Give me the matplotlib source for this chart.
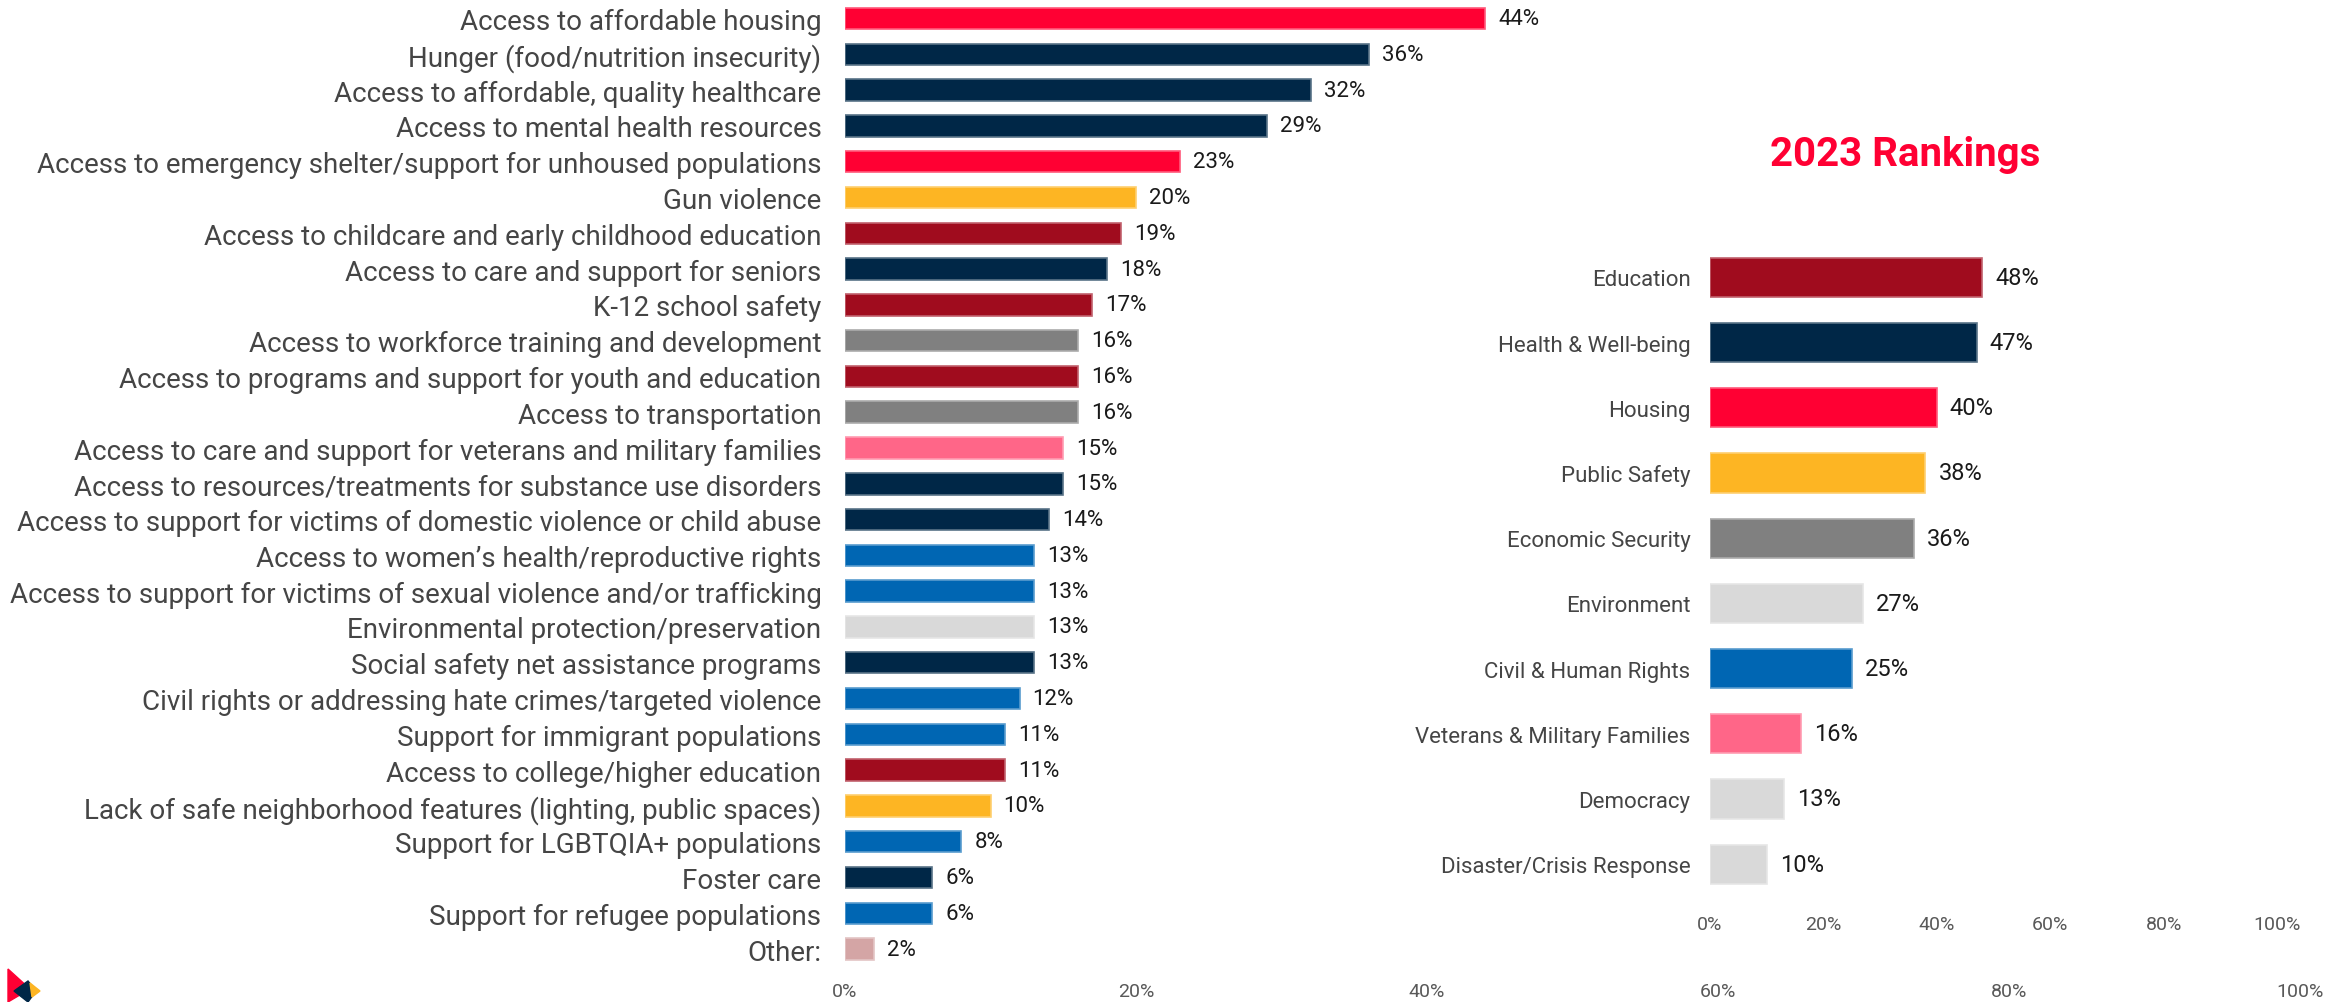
import numpy as np
import matplotlib.pyplot as plt
from matplotlib.colors import to_rgb
from matplotlib.patches import Polygon

plt.rcParams['font.family'] = ['Roboto', 'DejaVu Sans']

# colores por area
ROJO = '#FF0033'
AZUL_OSC = '#002747'
AMARILLO = '#FDB523'
VINO = '#A00C1E'
GRIS = '#808080'
ROSA = '#FF6688'
AZUL = '#0066B3'
GRIS_CLARO = '#D9D9D9'
OTRO = '#D4A5A5'

# datos del grafico principal
temas = ['Access to affordable housing',
         'Hunger (food/nutrition insecurity)',
         'Access to affordable, quality healthcare',
         'Access to mental health resources',
         'Access to emergency shelter/support for unhoused populations',
         'Gun violence',
         'Access to childcare and early childhood education',
         'Access to care and support for seniors',
         'K-12 school safety',
         'Access to workforce training and development',
         'Access to programs and support for youth and education',
         'Access to transportation',
         'Access to care and support for veterans and military families',
         'Access to resources/treatments for substance use disorders',
         'Access to support for victims of domestic violence or child abuse',
         'Access to women\u2019s health/reproductive rights',
         'Access to support for victims of sexual violence and/or trafficking',
         'Environmental protection/preservation',
         'Social safety net assistance programs',
         'Civil rights or addressing hate crimes/targeted violence',
         'Support for immigrant populations',
         'Access to college/higher education',
         'Lack of safe neighborhood features (lighting, public spaces)',
         'Support for LGBTQIA+ populations',
         'Foster care',
         'Support for refugee populations',
         'Other:']
valores = [44, 36, 32, 29, 23, 20, 19, 18, 17, 16, 16, 16, 15, 15, 14,
           13, 13, 13, 13, 12, 11, 11, 10, 8, 6, 6, 2]
colores = [ROJO, AZUL_OSC, AZUL_OSC, AZUL_OSC, ROJO, AMARILLO, VINO, AZUL_OSC,
           VINO, GRIS, VINO, GRIS, ROSA, AZUL_OSC, AZUL_OSC, AZUL, AZUL,
           GRIS_CLARO, AZUL_OSC, AZUL, AZUL, VINO, AMARILLO, AZUL, AZUL_OSC,
           AZUL, OTRO]

# datos del ranking 2023
areas = ['Education', 'Health & Well-being', 'Housing', 'Public Safety',
         'Economic Security', 'Environment', 'Civil & Human Rights',
         'Veterans & Military Families', 'Democracy', 'Disaster/Crisis Response']
valores23 = [48, 47, 40, 38, 36, 27, 25, 16, 13, 10]
colores23 = [VINO, AZUL_OSC, ROJO, AMARILLO, GRIS, GRIS_CLARO, AZUL, ROSA,
             GRIS_CLARO, GRIS_CLARO]

ticks = [0, 20, 40, 60, 80, 100]


def borde(c):
    # borde un poco mas claro que la barra
    r = np.array(to_rgb(c))
    return tuple(r + (1 - r) * 0.35)


def barras(ax, etiquetas, vals, cols, fs_cat, fs_val, pad_cat):
    y = np.arange(len(vals))
    ax.barh(y, vals, height=0.6, color=cols,
            edgecolor=[borde(c) for c in cols], linewidth=1.2)
    ax.set_yticks(y)
    ax.set_yticklabels(etiquetas, fontsize=fs_cat, color='#454545')
    ax.set_ylim(len(vals) - 0.5, -0.5)
    ax.set_xlim(0, 100)
    ax.set_xticks(ticks)
    ax.set_xticklabels([f'{t}%' for t in ticks], fontsize=14, color='#595959')
    ax.tick_params(axis='y', length=0, pad=pad_cat)
    ax.tick_params(axis='x', length=0)
    for s in ax.spines.values():
        s.set_visible(False)
    for yi, v in zip(y, vals):
        ax.annotate(f'{v}%', (v, yi), xytext=(13, 0), textcoords='offset pixels',
                    va='center', ha='left', fontsize=fs_val, color='#1A1A1A')


fig = plt.figure(figsize=(23.46, 10.03), dpi=100)

ax1 = fig.add_axes([0.3602, 0.0349, 0.6202, 0.9635])
barras(ax1, temas, valores, colores, 20, 16, 17)
ax1.tick_params(axis='x', pad=11)

ax2 = fig.add_axes([0.7289, 0.1049, 0.2417, 0.6501])
ax2.patch.set_alpha(0)
barras(ax2, areas, valores23, colores23, 16, 17, 14)
ax2.tick_params(axis='x', pad=13)

fig.text(0.812, 0.845, '2023 Rankings', ha='center', va='center',
         fontsize=29, fontweight='bold', color=ROJO)

# logo
W, H = 2346, 1003
def px(pts):
    return [(x / W, 1 - y / H) for x, y in pts]
fig.patches.append(Polygon(px([(8, 970), (8, 1003), (30, 990)]), closed=True,
                           color=ROJO, transform=fig.transFigure))
fig.patches.append(Polygon(px([(14, 992), (28, 982), (36, 992), (28, 1003)]),
                           closed=True, color=AZUL_OSC, transform=fig.transFigure))
fig.patches.append(Polygon(px([(30, 984), (40, 992), (32, 998)]), closed=True,
                           color=AMARILLO, transform=fig.transFigure))

fig.savefig('out.png', dpi=100)
